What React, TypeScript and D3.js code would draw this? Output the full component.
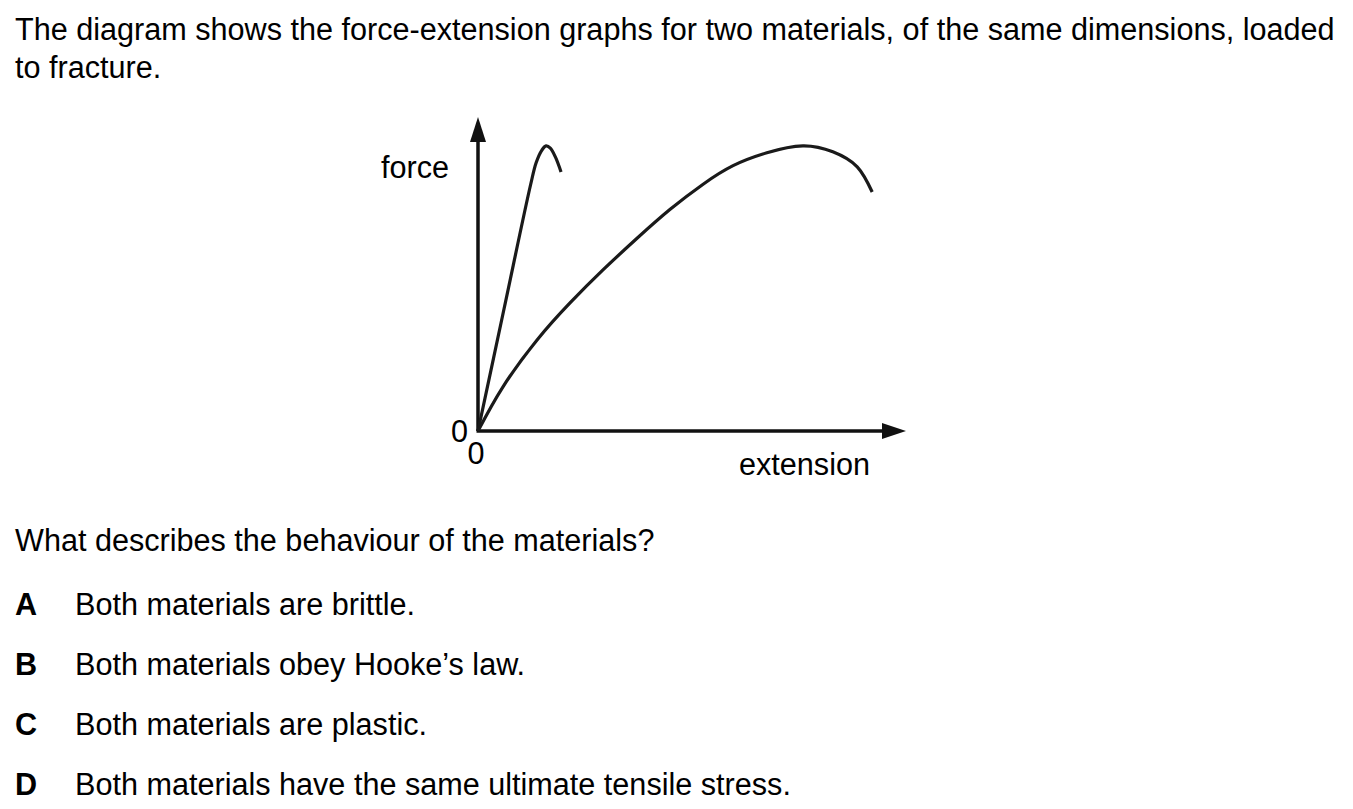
import React from "react";
import * as d3 from "d3";

// question text
const introLines = [
  "The diagram shows the force-extension graphs for two materials, of the same dimensions, loaded",
  "to fracture.",
];
const question = "What describes the behaviour of the materials?";
const optionLetters = ["A", "B", "C", "D"];
const optionTexts = [
  "Both materials are brittle.",
  "Both materials obey Hooke\u2019s law.",
  "Both materials are plastic.",
  "Both materials have the same ultimate tensile stress.",
];

// curves (extension / force in axis units 0..100)
const stiffExt = [0, 6.1, 12.3, 13.6, 14.9, 15.9, 16.9, 18.1, 19.4];
const stiffForce = [0, 39, 78.5, 85.5, 89.4, 90.8, 90.1, 87.2, 82.5];
const ductileExt = [0, 5.8, 13.8, 21.5, 29.2, 37.1, 44.9, 52.6, 59.6, 67.5, 75.9, 82.9, 88.6, 92.1];
const ductileForce = [0, 14.0, 29.0, 40.8, 51.3, 61.3, 70.6, 78.6, 84.5, 88.6, 90.8, 88.9, 84.1, 76.1];

const W = 1353;
const H = 809;
const font = "'Liberation Sans', Arial, sans-serif";
const fs = 30.6;

const App: React.FC = () => {
  const x = d3.scaleLinear().domain([0, 100]).range([478, 906]);
  const y = d3.scaleLinear().domain([0, 100]).range([431, 117]);

  const stiffLine = d3
    .line<[number, number]>()
    .x((d) => x(d[0]))
    .y((d) => y(d[1]))
    .curve(d3.curveCatmullRom.alpha(0.5));

  const ductileLine = d3
    .line<[number, number]>()
    .x((d) => x(d[0]))
    .y((d) => y(d[1]))
    .curve(d3.curveNatural);

  const stiff = stiffExt.map((e, i) => [e, stiffForce[i]] as [number, number]);
  const ductile = ductileExt.map((e, i) => [e, ductileForce[i]] as [number, number]);

  const x0 = x(0);
  const y0 = y(0);
  const yTop = y(100);
  const xEnd = x(100);

  return (
    <div style={{ position: "absolute", left: 0, top: 0 }}>
      <svg width={W} height={H} style={{ display: "block", background: "#fff" }}>
        <g fontFamily={font} fontSize={fs} fill="#000">
          {introLines.map((t, i) => (
            <text key={i} x={15} y={40 + i * 38}>
              {t}
            </text>
          ))}
          <text x={15} y={551}>
            {question}
          </text>
          {optionLetters.map((l, i) => (
            <g key={l}>
              <text x={15} y={615 + i * 60} fontWeight="bold">
                {l}
              </text>
              <text x={75} y={615 + i * 60}>
                {optionTexts[i]}
              </text>
            </g>
          ))}
        </g>

        {/* axes */}
        <g stroke="#111" strokeWidth={3.5} fill="none">
          <line x1={x0} y1={y0} x2={x0} y2={yTop + 20} />
          <line x1={x0 - 1.5} y1={y0} x2={xEnd - 20} y2={y0} />
        </g>
        <path
          d={`M${x0},${yTop} L${x0 - 8},${yTop + 25} L${x0 + 8},${yTop + 25} Z`}
          fill="#111"
        />
        <path
          d={`M${xEnd},${y0} L${xEnd - 24},${y0 - 8} L${xEnd - 24},${y0 + 8} Z`}
          fill="#111"
        />

        {/* curves */}
        <g stroke="#1a1a1a" strokeWidth={3.2} fill="none" strokeLinecap="butt">
          <path d={stiffLine(stiff) || ""} />
          <path d={ductileLine(ductile) || ""} />
        </g>

        {/* labels */}
        <g fontFamily={font} fontSize={fs} fill="#000">
          <text x={449} y={178} textAnchor="end">
            force
          </text>
          <text x={870} y={475} textAnchor="end">
            extension
          </text>
          <text x={468} y={442} textAnchor="end">
            0
          </text>
          <text x={476} y={464} textAnchor="middle">
            0
          </text>
        </g>
      </svg>
    </div>
  );
};

export default App;
